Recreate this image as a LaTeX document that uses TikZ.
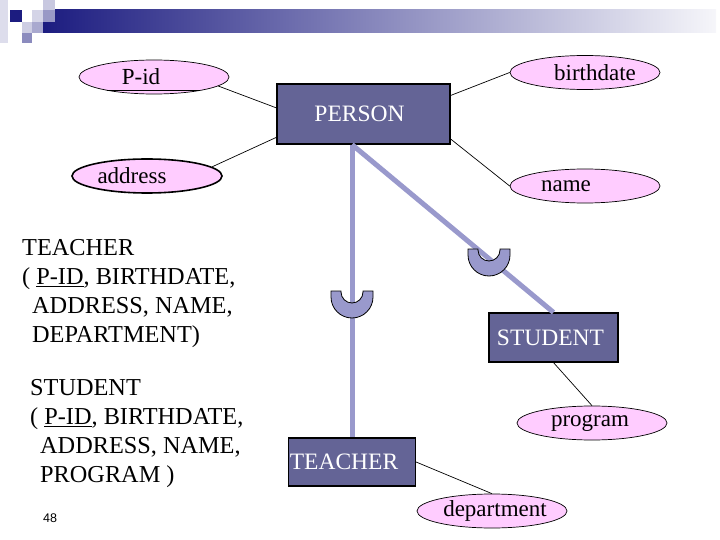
\documentclass[tikz,border=0pt]{standalone}
\usepackage{fontspec}
\setmainfont{Liberation Serif}
\newfontfamily\slidenumfont{Liberation Sans}
\usetikzlibrary{shapes.geometric}

\definecolor{entityFill}{RGB}{100,100,150}
\definecolor{attrFill}{RGB}{255,204,255}
\definecolor{isaLine}{RGB}{153,153,204}
\definecolor{headNavy}{RGB}{28,28,128}

\begin{document}
\begin{tikzpicture}
[x=1pt,y=-1pt,
  lineDecorate/.style={-,line width=0.7pt},%
  isaDecorate/.style={-,line width=5pt,draw=isaLine},
  attrDecorate/.style={shape=ellipse,draw,fill=attrFill,inner sep=0pt,
    minimum width=150pt,minimum height=34pt,font=\fontsize{23}{28}\selectfont},
  entityDecorate/.style={shape=rectangle,draw,line width=1.2pt,fill=entityFill,
    text=white,inner sep=0pt,font=\fontsize{23.5}{28}\selectfont},
  cupDecorate/.style={draw,line width=0.8pt,fill=isaLine},
  relDecorate/.style={anchor=base west,align=left,inner sep=0pt,
    font=\fontsize{24.3}{28.8}\selectfont}]
\useasboundingbox (0,0) rectangle (720,540);
%% slide header
\shade[left color=headNavy,right color=headNavy!4] (43,10) rectangle (716,33);
\foreach \x/\y/\w/\h/\c in {
  0/0/8/43/15, 10/10/12/12/100, 43/0/12/10/24, 32/10/11/12/19,
  43/10/12/12/45, 22/22/10/11/22, 32/22/11/11/38, 22/33/10/10/51}
{
  \fill[headNavy!\c] (\x,\y) rectangle ++(\w,\h);
}
%% entities
\foreach \nodename/\x/\y/\w/\h/\ent/\dx in {
  person/363.5/114/173/60/PERSON/-4,
  student/553.5/337.5/129/49/STUDENT/-3,
  teacher/352/462/127/48/TEACHER/-8}
{
  \node (\nodename) at (\x,\y) [entityDecorate,minimum width=\w pt,minimum height=\h pt]
    {\hspace*{\dx pt}\ent\hspace*{-\dx pt}};
}
%% attributes
\foreach \nodename/\x/\y/\attr/\dx/\lw in {
  pid/154/77/P-id/-13/0.7, birthdate/585/72.5/birthdate/10/0.7,
  address/147/176/address/-15/1.6, name/585/186/name/-19/0.7,
  program/592/423/program/-2/0.7, department/492/511/department/3/0.7}
{
  \node (\nodename) at (\x,\y) [attrDecorate,line width=\lw pt]
    {\hspace*{\dx pt}\attr\hspace*{-\dx pt}};
}
\draw[line width=1pt] ([xshift=-47pt,yshift=4pt]pid.south) -- ([xshift=46pt,yshift=4pt]pid.south);
%% edges
\path
\foreach \startnode/\endnode in {
  pid.-8/person.176, birthdate.west/person.12, address.8/person.195,
  name.west/person.-16, student.south/program.north, teacher.east/department.north}
{
  (\startnode) edge[lineDecorate] (\endnode)
};
%% isa lines with subset marks
\coordinate (isa) at (teacher.north |- person.south);
\draw[isaDecorate] (isa) -- (teacher.north);
\draw[isaDecorate] (isa) -- (student.north);
\foreach \cx/\cy in {352/291, 489/249}
{
  \draw[cupDecorate] (\cx-21,\cy) -- ++(0,6) arc[start angle=180,end angle=360,radius=21pt]
    -- ++(0,-6) -- ++(-10,0) -- ++(0,1) arc[start angle=0,end angle=-180,radius=11pt]
    -- ++(0,-1) -- cycle;
}
%% relation schemas (anchored at the last line)
\node (teacherrel) at (22,342) [relDecorate]
  {TEACHER\\( \underline{P-ID}, BIRTHDATE,\\\hspace*{10pt}ADDRESS, NAME,\\\hspace*{10pt}DEPARTMENT)};
\node (studentrel) at (30,482) [relDecorate]
  {STUDENT\\( \underline{P-ID}, BIRTHDATE,\\\hspace*{10pt}ADDRESS, NAME,\\\hspace*{10pt}PROGRAM )};
\node (slidenum) at (43,522) [anchor=base west,inner sep=0pt,font=\slidenumfont\fontsize{12.5}{14}\selectfont] {48};
\end{tikzpicture}
\end{document}
